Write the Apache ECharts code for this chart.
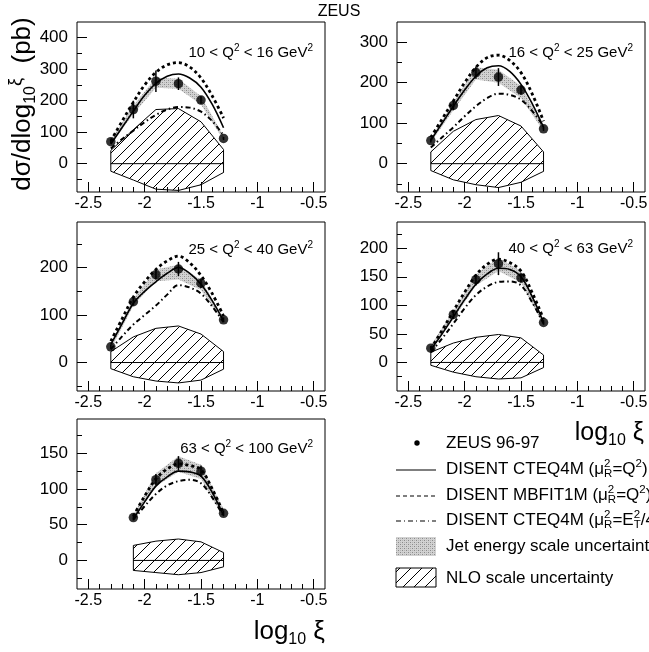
<!DOCTYPE html>
<html><head><meta charset="utf-8">
<script src="https://cdn.jsdelivr.net/npm/echarts@6/dist/echarts.min.js"></script>
<style>html,body{margin:0;padding:0;background:#fff}#c{width:649px;height:652px}</style>
</head><body><div id="c"></div>
<script>
// ---------------- DATA ----------------
const xBins  = [-2.3, -2.1, -1.9, -1.7, -1.5, -1.3];
const xBins5 = [-2.1, -1.9, -1.7, -1.5, -1.3];
const xCurve  = [-2.3, -2.2, -2.1, -2.0, -1.9, -1.8, -1.7, -1.6, -1.5, -1.4, -1.3];
const xCurve5 = [-2.1, -2.0, -1.9, -1.8, -1.7, -1.6, -1.5, -1.4, -1.3];

const qLow  = ['10', '16', '25', '40', '63'];
const qHigh = ['16', '25', '40', '63', '100'];

// panel 1: 10 < Q2 < 16
const zeus1    = [70, 172, 262, 254, 202, 80];
const zeusErr1 = [5, 28, 34, 20, 12, 5];
const cteq1    = [62, 115, 167, 217, 255, 278, 285, 272, 243, 188, 114];
const mbfit1   = [72, 135, 195, 250, 290, 314, 321, 307, 272, 215, 145];
const cteqEt1  = [48, 78, 105, 132, 155, 172, 180, 178, 165, 135, 90];
const jesUp1   = [76, 185, 273, 270, 214, 88];
const jesLo1   = [62, 158, 241, 238, 188, 74];
const nloUp1   = [42, 108, 172, 175, 133, 45];
const nloLo1   = [-24, -52, -81, -85, -67, -28];

// panel 2: 16 < Q2 < 25
const zeus2    = [57, 144, 225, 214, 182, 86];
const zeusErr2 = [5, 12, 15, 22, 12, 5];
const cteq2    = [58, 100, 142, 182, 216, 237, 242, 228, 196, 148, 90];
const mbfit2   = [65, 110, 155, 200, 238, 262, 268, 255, 225, 172, 105];
const cteqEt2  = [40, 65, 90, 117, 142, 162, 173, 170, 158, 130, 92];
const jesUp2   = [63, 152, 238, 232, 192, 90];
const jesLo2   = [52, 132, 208, 200, 162, 80];
const nloUp2   = [29, 80, 109, 119, 93, 29];
const nloLo2   = [-17, -40, -52, -59, -46, -19];

// panel 3: 25 < Q2 < 40
const zeus3    = [33, 128, 185, 197, 167, 90];
const zeusErr3 = [5, 8, 10, 15, 10, 5];
const cteq3    = [38, 82, 125, 150, 170, 188, 200, 188, 165, 130, 88];
const mbfit3   = [45, 92, 138, 170, 196, 214, 224, 210, 183, 145, 98];
const cteqEt3  = [28, 55, 80, 100, 120, 143, 163, 158, 145, 118, 85];
const jesUp3   = [40, 135, 196, 206, 174, 94];
const jesLo3   = [28, 120, 171, 175, 153, 85];
const nloUp3   = [23, 54, 72, 77, 60, 23];
const nloLo3   = [-13, -30, -39, -43, -37, -14];

// panel 4: 40 < Q2 < 63
const zeus4    = [25, 84, 145, 173, 148, 70];
const zeusErr4 = [4, 8, 10, 20, 8, 4];
const cteq4    = [22, 50, 80, 110, 137, 155, 165, 163, 150, 115, 70];
const mbfit4   = [24, 56, 90, 123, 153, 172, 181, 175, 160, 122, 76];
const cteqEt4  = [18, 42, 68, 95, 118, 133, 141, 142, 135, 105, 68];
const jesUp4   = [30, 90, 155, 183, 160, 75];
const jesLo4   = [20, 76, 135, 160, 140, 65];
const nloUp4   = [18, 34, 44, 49, 43, 13];
const nloLo4   = [-5, -17, -25, -29, -27, -9];

// panel 5: 63 < Q2 < 100
const zeus5    = [60, 113, 136, 125, 66];
const zeusErr5 = [4, 8, 10, 8, 4];
const cteq5    = [58, 82, 104, 117, 125, 124, 118, 95, 63];
const mbfit5   = [62, 90, 114, 128, 135, 133, 127, 100, 66];
const cteqEt5  = [57, 76, 93, 105, 111, 113, 108, 88, 62];
const jesUp5   = [64, 122, 146, 134, 72];
const jesLo5   = [56, 104, 124, 114, 60];
const nloUp5   = [21, 27, 30, 26, 11];
const nloLo5   = [-14, -17, -20, -17, -9];

// axes
const xMin = -2.6, xMax = -0.4;
const xMajorTicks = [-2.5, -2, -1.5, -1, -0.5];
const xMinorTicks = [-2.4, -2.3, -2.2, -2.1, -1.9, -1.8, -1.7, -1.6, -1.4, -1.3, -1.2, -1.1, -0.9, -0.8, -0.7, -0.6];
const yMins = [-90, -70, -60, -50, -40];
const yMaxs = [450, 350, 296, 246, 198];
const yMajorTicks = [[0, 100, 200, 300, 400], [0, 100, 200, 300], [0, 100, 200], [0, 50, 100, 150, 200], [0, 50, 100, 150]];
const yMinorTicks = [[-50, 50, 150, 250, 350], [-50, 50, 150, 250], [-50, 50, 150, 250], [-25, 25, 75, 125, 175, 225], [-25, 25, 75, 125, 175]];

// ---------------- STYLE / LAYOUT ----------------
const FONT = '"Liberation Sans", Arial, Helvetica, sans-serif';
const gridRects = [
  {left: 77, top: 22, width: 248, height: 170},
  {left: 397, top: 22, width: 248, height: 170},
  {left: 77, top: 222, width: 248, height: 169},
  {left: 397, top: 222, width: 248, height: 169},
  {left: 77, top: 419, width: 248, height: 170}
];

function hatchPattern() {
  const s = 11, c = document.createElement('canvas');
  c.width = s; c.height = s;
  const g = c.getContext('2d');
  g.strokeStyle = '#000'; g.lineWidth = 1;
  g.beginPath();
  for (const k of [-1, 0, 1]) { g.moveTo(k * s, s); g.lineTo(k * s + s, 0); }
  g.stroke();
  return c;
}
function stipplePattern() {
  const c = document.createElement('canvas');
  c.width = 4; c.height = 4;
  const g = c.getContext('2d');
  g.fillStyle = '#d2d2d2'; g.fillRect(0, 0, 4, 4);
  g.fillStyle = '#8a8a8a'; g.fillRect(0, 0, 1, 1); g.fillRect(2, 2, 1, 1);
  g.fillStyle = '#b4b4b4'; g.fillRect(2, 0, 1, 1); g.fillRect(0, 2, 1, 1);
  return c;
}
const hatchImg = hatchPattern();
const stippleImg = stipplePattern();
const hatchFill = {type: 'pattern', image: hatchImg, repeat: 'repeat'};
const stippleFill = {type: 'pattern', image: stippleImg, repeat: 'repeat'};

const panels = [
  {xb: xBins, xc: xCurve, zeus: zeus1, err: zeusErr1, cteq: cteq1, mbfit: mbfit1, cteqEt: cteqEt1, jesUp: jesUp1, jesLo: jesLo1, nloUp: nloUp1, nloLo: nloLo1},
  {xb: xBins, xc: xCurve, zeus: zeus2, err: zeusErr2, cteq: cteq2, mbfit: mbfit2, cteqEt: cteqEt2, jesUp: jesUp2, jesLo: jesLo2, nloUp: nloUp2, nloLo: nloLo2},
  {xb: xBins, xc: xCurve, zeus: zeus3, err: zeusErr3, cteq: cteq3, mbfit: mbfit3, cteqEt: cteqEt3, jesUp: jesUp3, jesLo: jesLo3, nloUp: nloUp3, nloLo: nloLo3},
  {xb: xBins, xc: xCurve, zeus: zeus4, err: zeusErr4, cteq: cteq4, mbfit: mbfit4, cteqEt: cteqEt4, jesUp: jesUp4, jesLo: jesLo4, nloUp: nloUp4, nloLo: nloLo4},
  {xb: xBins5, xc: xCurve5, zeus: zeus5, err: zeusErr5, cteq: cteq5, mbfit: mbfit5, cteqEt: cteqEt5, jesUp: jesUp5, jesLo: jesLo5, nloUp: nloUp5, nloLo: nloLo5}
];

const grids = [], xAxes = [], yAxes = [], series = [];
panels.forEach((p, i) => {
  grids.push(Object.assign({show: true, borderColor: '#000', borderWidth: 1, backgroundColor: 'transparent', containLabel: false, outerBoundsMode: 'none'}, gridRects[i]));
  const xLabelStyle = {fontSize: 16, fontFamily: FONT, color: '#000'};
  const yLabelStyle = {fontSize: 17, fontFamily: FONT, color: '#000'};
  // major axes
  xAxes.push({type: 'value', gridIndex: i, min: xMin, max: xMax, position: 'bottom',
    axisLine: {show: false, onZero: false}, splitLine: {show: false},
    axisTick: {show: true, inside: true, length: 10, lineStyle: {color: '#000', width: 1}, customValues: xMajorTicks},
    axisLabel: Object.assign({show: true, margin: 4, customValues: xMajorTicks, showMinLabel: true, showMaxLabel: true}, xLabelStyle)});
  yAxes.push({type: 'value', gridIndex: i, min: yMins[i], max: yMaxs[i], position: 'left',
    axisLine: {show: false, onZero: false}, splitLine: {show: false},
    axisTick: {show: true, inside: true, length: 10, lineStyle: {color: '#000', width: 1}, customValues: yMajorTicks[i]},
    axisLabel: Object.assign({show: true, margin: 9, customValues: yMajorTicks[i]}, yLabelStyle)});
  // minor tick axes
  xAxes.push({type: 'value', gridIndex: i, min: xMin, max: xMax, position: 'bottom',
    axisLine: {show: false, onZero: false}, splitLine: {show: false},
    axisTick: {show: true, inside: true, length: 5, lineStyle: {color: '#000', width: 1}, customValues: xMinorTicks},
    axisLabel: {show: false, customValues: xMinorTicks}});
  yAxes.push({type: 'value', gridIndex: i, min: yMins[i], max: yMaxs[i], position: 'left',
    axisLine: {show: false, onZero: false}, splitLine: {show: false},
    axisTick: {show: true, inside: true, length: 5, lineStyle: {color: '#000', width: 1}, customValues: yMinorTicks[i]},
    axisLabel: {show: false, customValues: yMinorTicks[i]}});

  const xi = 2 * i, yi = 2 * i;
  // NLO scale uncertainty (hatched polygon around zero)
  series.push({type: 'custom', xAxisIndex: xi, yAxisIndex: yi, z: 1, silent: true,
    data: p.xb.map((x, k) => [x, p.nloUp[k], p.nloLo[k]]),
    renderItem: (params, api) => {
      if (params.dataIndex !== 0) return null;
      const pts = [];
      p.xb.forEach((x, k) => pts.push(api.coord([x, p.nloUp[k]])));
      for (let k = p.xb.length - 1; k >= 0; k--) pts.push(api.coord([p.xb[k], p.nloLo[k]]));
      const a = api.coord([p.xb[0], 0]), b = api.coord([p.xb[p.xb.length - 1], 0]);
      return {type: 'group', children: [
        {type: 'polygon', shape: {points: pts}, style: {fill: hatchFill, stroke: '#000', lineWidth: 1}},
        {type: 'line', shape: {x1: a[0], y1: a[1], x2: b[0], y2: b[1]}, style: {stroke: '#000', lineWidth: 1}}
      ]};
    }});
  // Jet energy scale band
  series.push({type: 'custom', xAxisIndex: xi, yAxisIndex: yi, z: 2, silent: true,
    data: p.xb.map((x, k) => [x, p.jesUp[k], p.jesLo[k]]),
    renderItem: (params, api) => {
      if (params.dataIndex !== 0) return null;
      const pts = [];
      p.xb.forEach((x, k) => pts.push(api.coord([x, p.jesUp[k]])));
      for (let k = p.xb.length - 1; k >= 0; k--) pts.push(api.coord([p.xb[k], p.jesLo[k]]));
      return {type: 'polygon', shape: {points: pts}, style: {fill: stippleFill, stroke: null}};
    }});
  // theory curves
  const mkLine = (vals, width, dash, z) => ({type: 'line', xAxisIndex: xi, yAxisIndex: yi, z: z, silent: true,
    data: p.xc.map((x, k) => [x, vals[k]]), showSymbol: false, symbol: 'none', smooth: 0.35,
    lineStyle: {color: '#000', width: width, type: dash}});
  series.push(mkLine(p.cteqEt, 2, [5, 3, 1.5, 3], 3));
  series.push(mkLine(p.mbfit, 2.8, [3, 3], 3));
  series.push(mkLine(p.cteq, 1.6, 'solid', 3));
  // error bars
  series.push({type: 'custom', xAxisIndex: xi, yAxisIndex: yi, z: 4, silent: true,
    data: p.xb.map((x, k) => [x, p.zeus[k], p.err[k]]),
    renderItem: (params, api) => {
      const x = api.value(0), y = api.value(1), e = api.value(2);
      const a = api.coord([x, y - e]), b = api.coord([x, y + e]);
      return {type: 'line', shape: {x1: a[0], y1: a[1], x2: b[0], y2: b[1]}, style: {stroke: '#000', lineWidth: 1.5}};
    }});
  // data points
  series.push({type: 'scatter', xAxisIndex: xi, yAxisIndex: yi, z: 5, silent: true,
    data: p.xb.map((x, k) => [x, p.zeus[k]]), symbol: 'circle', symbolSize: 9.5,
    itemStyle: {color: '#000'}});
});

// ---------------- TEXT / LEGEND ----------------
const mctx = document.createElement('canvas').getContext('2d');
function tw(t, size) { mctx.font = size + 'px ' + FONT; return mctx.measureText(t).width; }

const graphics = [];
const qPos = [[313, 53], [633, 53], [313, 250], [633, 249], [313, 449]];
qPos.forEach((pos, i) => {
  graphics.push({type: 'text', x: pos[0], y: pos[1], silent: true,
    style: {text: '{a|' + qLow[i] + ' < Q}{s|2}{a| < ' + qHigh[i] + ' GeV}{s|2}', align: 'right', verticalAlign: 'middle', fill: '#000',
      rich: {a: {fontSize: 15, fontFamily: FONT, lineHeight: 20, fill: '#000'}, s: {fontSize: 10, fontFamily: FONT, lineHeight: 10, verticalAlign: 'top', fill: '#000'}}}});
});
graphics.push({type: 'text', x: 339, y: 12, silent: true,
  style: {text: 'ZEUS', font: '16px ' + FONT, align: 'center', verticalAlign: 'middle', fill: '#000'}});
// y-axis title
graphics.push({type: 'text', x: 23, y: 104, rotation: Math.PI / 2, silent: true,
  style: {text: '{a|dσ/dlog}{sub|10}{sup|ξ}{a|  (pb)}', align: 'center', verticalAlign: 'middle', fill: '#000',
    rich: {a: {fontSize: 26, fontFamily: FONT, lineHeight: 32, fill: '#000'},
      sub: {fontSize: 16, fontFamily: FONT, lineHeight: 16, verticalAlign: 'bottom', fill: '#000'},
      sup: {fontSize: 18, fontFamily: FONT, lineHeight: 18, verticalAlign: 'top', fill: '#000'}}}});
// x-axis titles
const xTitleRich = (fs) => ({a: {fontSize: fs, fontFamily: FONT, lineHeight: fs + 6, fill: '#000'},
  sub: {fontSize: Math.round(fs * 0.62), fontFamily: FONT, lineHeight: Math.round(fs * 0.62), verticalAlign: 'bottom', fill: '#000'}});
graphics.push({type: 'text', x: 325, y: 632, silent: true,
  style: {text: '{a|log}{sub|10}{a| ξ}', align: 'right', verticalAlign: 'middle', fill: '#000', rich: xTitleRich(26)}});
graphics.push({type: 'text', x: 644, y: 433, silent: true,
  style: {text: '{a|log}{sub|10}{a| ξ}', align: 'right', verticalAlign: 'middle', fill: '#000', rich: xTitleRich(25)}});

// legend
const LX = 446, SYM0 = 396, SYM1 = 436;
const LF = 17, SF = 11.5;
function legendText(y, parts) {
  let x = LX;
  parts.forEach(pt => {
    if (typeof pt === 'string') {
      graphics.push({type: 'text', x: x, y: y, silent: true, style: {text: pt, font: LF + 'px ' + FONT, align: 'left', verticalAlign: 'middle', fill: '#000'}});
      x += tw(pt, LF);
    } else if (pt.sup && pt.sub) {
      graphics.push({type: 'text', x: x, y: y - 5, silent: true, style: {text: pt.sup, font: SF + 'px ' + FONT, align: 'left', verticalAlign: 'middle', fill: '#000'}});
      graphics.push({type: 'text', x: x, y: y + 5, silent: true, style: {text: pt.sub, font: SF + 'px ' + FONT, align: 'left', verticalAlign: 'middle', fill: '#000'}});
      x += Math.max(tw(pt.sup, SF), tw(pt.sub, SF));
    } else if (pt.sup) {
      graphics.push({type: 'text', x: x, y: y - 5, silent: true, style: {text: pt.sup, font: SF + 'px ' + FONT, align: 'left', verticalAlign: 'middle', fill: '#000'}});
      x += tw(pt.sup, SF);
    }
  });
}
graphics.push({type: 'circle', shape: {cx: 417, cy: 443, r: 2.7}, style: {fill: '#000'}, silent: true});
legendText(443, ['ZEUS 96-97']);
graphics.push({type: 'line', shape: {x1: SYM0, y1: 470, x2: SYM1, y2: 470}, style: {stroke: '#000', lineWidth: 1.2}, silent: true});
legendText(469, ['DISENT CTEQ4M (μ', {sup: '2', sub: 'R'}, '=Q', {sup: '2'}, ')']);
graphics.push({type: 'line', shape: {x1: SYM0, y1: 496, x2: SYM1, y2: 496}, style: {stroke: '#000', lineWidth: 1.1, lineDash: [4, 3]}, silent: true});
legendText(495, ['DISENT MBFIT1M (μ', {sup: '2', sub: 'R'}, '=Q', {sup: '2'}, ')']);
graphics.push({type: 'line', shape: {x1: SYM0, y1: 521, x2: SYM1, y2: 521}, style: {stroke: '#000', lineWidth: 1.1, lineDash: [5, 3, 1, 3]}, silent: true});
legendText(520, ['DISENT CTEQ4M (μ', {sup: '2', sub: 'R'}, '=E', {sup: '2', sub: 'T'}, '/4)']);
graphics.push({type: 'rect', shape: {x: SYM0, y: 537, width: 40, height: 19}, style: {fill: stippleFill}, silent: true});
legendText(546, ['Jet energy scale uncertainty']);
graphics.push({type: 'rect', shape: {x: SYM0, y: 568, width: 40, height: 19}, style: {fill: hatchFill, stroke: '#000', lineWidth: 1}, silent: true});
legendText(578, ['NLO scale uncertainty']);

const chart = echarts.init(document.getElementById('c'), null, {renderer: 'canvas'});
chart.setOption({
  animation: false,
  backgroundColor: '#fff',
  grid: grids,
  xAxis: xAxes,
  yAxis: yAxes,
  series: series,
  graphic: {elements: graphics}
});
</script>
</body></html>
